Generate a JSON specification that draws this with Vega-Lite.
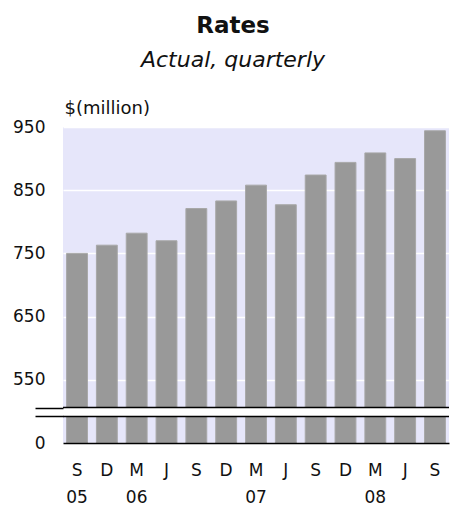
{
  "$schema": "https://vega.github.io/schema/vega-lite/v6.json",
  "width": 386,
  "height": 316,
  "autosize": {"type": "none"},
  "padding": {"left": 63, "top": 127, "right": 2, "bottom": 67},
  "background": "white",
  "config": {
    "view": {"fill": "#E6E6FA", "stroke": null},
    "font": "DejaVu Sans"
  },
  "title": {
    "text": "Rates",
    "subtitle": "Actual, quarterly",
    "anchor": "middle",
    "frame": "group",
    "font": "DejaVu Sans",
    "fontSize": 23,
    "fontWeight": "bold",
    "color": "#111",
    "subtitleFont": "DejaVu Sans",
    "subtitleFontSize": 22,
    "subtitleFontStyle": "italic",
    "subtitleColor": "#111",
    "subtitlePadding": 12,
    "offset": 28,
    "dx": -23
  },
  "layer": [
    {
      "data": {
        "values": [
          {"q": "S05", "v": 750},
          {"q": "D05", "v": 763},
          {"q": "M06", "v": 782},
          {"q": "J06", "v": 770},
          {"q": "S06", "v": 821},
          {"q": "D06", "v": 833},
          {"q": "M07", "v": 858},
          {"q": "J07", "v": 827},
          {"q": "S07", "v": 874},
          {"q": "D07", "v": 894},
          {"q": "M08", "v": 909},
          {"q": "J08", "v": 900},
          {"q": "S08", "v": 944}
        ]
      },
      "mark": {"type": "bar", "fill": "#999999", "stroke": "#a8a8a8", "strokeWidth": 1},
      "encoding": {
        "x": {
          "field": "q",
          "type": "ordinal",
          "sort": null,
          "scale": {"paddingInner": 0.3, "paddingOuter": 0.12},
          "axis": {
            "title": null,
            "labelAngle": 0,
            "ticks": false,
            "grid": false,
            "domain": true,
            "domainColor": "#000",
            "domainWidth": 1.5,
            "labelFont": "DejaVu Sans",
            "labelFontSize": 17,
            "labelColor": "#111",
            "labelBaseline": "top",
            "labelLineHeight": 27,
            "labelPadding": 19,
            "zindex": 1,
            "labelExpr": "[substring(datum.value,0,1), (substring(datum.value,0,1)=='M' || datum.value=='S05') ? substring(datum.value,1) : '']"
          }
        },
        "y": {
          "field": "v",
          "type": "quantitative",
          "scale": {"domain": [450, 950], "clamp": true, "zero": false, "nice": false},
          "axis": {
            "values": [450, 550, 650, 750, 850, 950],
            "labelExpr": "datum.value == 450 ? '0' : datum.label",
            "ticks": false,
            "domain": false,
            "grid": true,
            "gridColor": "white",
            "gridWidth": 1.5,
            "labelFont": "DejaVu Sans",
            "labelFontSize": 17,
            "labelColor": "#111",
            "labelPadding": 18,
            "title": "$(million)",
            "titleAngle": 0,
            "titleAlign": "left",
            "titleBaseline": "alphabetic",
            "titleX": 1,
            "titleY": -14,
            "titleFont": "DejaVu Sans",
            "titleFontSize": 18,
            "titleFontWeight": "normal",
            "titleColor": "#111"
          }
        }
      }
    },
    {
      "data": {"values": [{"lo": 492, "hi": 506}]},
      "layer": [
        {
          "mark": {"type": "rect", "fill": "white"},
          "encoding": {
            "y": {
              "field": "lo",
              "type": "quantitative",
              "scale": {"domain": [450, 950], "zero": false, "nice": false},
              "axis": {
                "values": [492, 506],
                "labels": false,
                "ticks": true,
                "tickSize": 28,
                "tickColor": "#000",
                "tickWidth": 1.5,
                "domain": false,
                "grid": false,
                "title": null,
                "orient": "left",
                "zindex": 1
              }
            },
            "y2": {"field": "hi"}
          }
        },
        {
          "mark": {"type": "rule", "color": "#000", "strokeWidth": 1.5},
          "encoding": {
            "y": {"field": "lo", "type": "quantitative"}
          }
        },
        {
          "mark": {"type": "rule", "color": "#000", "strokeWidth": 1.5},
          "encoding": {
            "y": {"field": "hi", "type": "quantitative"}
          }
        }
      ]
    }
  ],
  "resolve": {"scale": {"y": "independent"}, "axis": {"y": "independent"}}
}
